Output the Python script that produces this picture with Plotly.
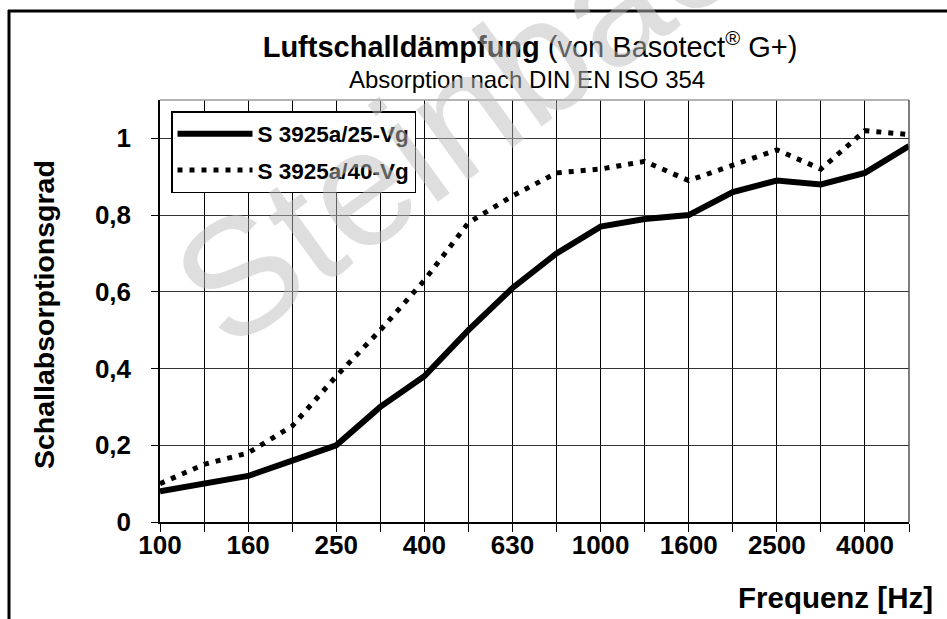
import plotly.graph_objects as go

# Data
frequencies = ["100", "125", "160", "200", "250", "315", "400", "500", "630", "800",
               "1000", "1250", "1600", "2000", "2500", "3150", "4000", "5000"]
s25_values = [0.08, 0.10, 0.12, 0.16, 0.20, 0.30, 0.38, 0.50, 0.61, 0.70,
              0.77, 0.79, 0.80, 0.86, 0.89, 0.88, 0.91, 0.98]
s40_values = [0.10, 0.15, 0.18, 0.25, 0.38, 0.50, 0.63, 0.78, 0.85, 0.91,
              0.92, 0.94, 0.89, 0.93, 0.97, 0.92, 1.02, 1.01]
x_tick_labels = ["100", "", "160", "", "250", "", "400", "", "630", "",
                 "1000", "", "1600", "", "2500", "", "4000", ""]
y_tick_vals = [0, 0.2, 0.4, 0.6, 0.8, 1.0]
y_tick_labels = ["0", "0,2", "0,4", "0,6", "0,8", "1"]
series_names = ["S 3925a/25-Vg", "S 3925a/40-Vg"]

FONT = "Liberation Sans, Arial, sans-serif"
W, H = 947, 619
L, R, T, B = 160, 38, 100, 97
pw, ph = W - L - R, H - T - B


def px_x(x):
    return (x - L) / pw


def px_y(y):
    return (H - B - y) / ph


fig = go.Figure()
fig.add_trace(go.Scatter(
    x=frequencies, y=s25_values, name=series_names[0], mode="lines",
    line=dict(color="black", width=6), legendgroup="a"))
fig.add_trace(go.Scatter(
    x=frequencies, y=s40_values, name=series_names[1], mode="lines",
    line=dict(color="black", width=5, dash="5px,7px"), legendgroup="b"))

fig.update_layout(
    width=W, height=H,
    margin=dict(l=L, r=R, t=T, b=B, pad=0),
    paper_bgcolor="white", plot_bgcolor="white",
    font=dict(family=FONT, color="black"),
    showlegend=True,
    legend=dict(
        x=px_x(171), y=px_y(111), xanchor="left", yanchor="top",
        bgcolor="white", bordercolor="black", borderwidth=1.5,
        font=dict(family=FONT, size=22.5, color="black", weight="bold"),
        itemwidth=75, traceorder="grouped", tracegroupgap=4,
    ),
    title=dict(
        text="<b>Luftschalldämpfung</b> (von Basotect<sup>®</sup> G+)",
        font=dict(family=FONT, size=29, color="black"),
        x=px_x(530), xref="paper", xanchor="center",
        y=1 - 47 / H, yref="container", yanchor="middle",
    ),
    xaxis=dict(
        type="category", categoryorder="array", categoryarray=frequencies,
        range=[0, len(frequencies) - 1],
        tickmode="array", tickvals=frequencies, ticktext=x_tick_labels,
        tickfont=dict(family=FONT, size=26, color="black", weight="bold"),
        ticks="outside", ticklen=8, tickcolor="black", tickwidth=1,
        ticklabelstandoff=-9,
        showgrid=True, gridcolor="black", gridwidth=1,
        showline=True, linecolor="black", linewidth=1.5,
        zeroline=False, fixedrange=True,
    ),
    yaxis=dict(
        range=[0, 1.1], tickmode="array", tickvals=y_tick_vals, ticktext=y_tick_labels,
        tickfont=dict(family=FONT, size=26, color="black", weight="bold"),
        ticks="outside", ticklen=7, tickcolor="black", tickwidth=1,
        ticklabelstandoff=15,
        showgrid=True, gridcolor="#333333", gridwidth=1,
        showline=True, linecolor="black", linewidth=1.5,
        zeroline=False, fixedrange=True,
    ),
)

# plot border (top light gray, right dark gray)
fig.add_shape(type="line", xref="paper", yref="paper", x0=0, x1=1, y0=1, y1=1,
              line=dict(color="#9a9a9a", width=1.5))
fig.add_shape(type="line", xref="paper", yref="paper", x0=1, x1=1, y0=0, y1=1,
              line=dict(color="#555555", width=1.5))

# outer frame (cropped): left and top
fig.add_shape(type="line", xref="paper", yref="paper",
              x0=px_x(9), x1=px_x(9), y0=px_y(10), y1=px_y(625),
              line=dict(color="black", width=3))
fig.add_shape(type="line", xref="paper", yref="paper",
              x0=px_x(8), x1=px_x(952), y0=px_y(11), y1=px_y(11),
              line=dict(color="black", width=3))

# subtitle
fig.add_annotation(text="Absorption nach DIN EN ISO 354", xref="paper", yref="paper",
                   x=px_x(527), y=px_y(80), xanchor="center", yanchor="middle",
                   showarrow=False, font=dict(family=FONT, size=24, color="black"))
# axis titles
fig.add_annotation(text="<b>Frequenz [Hz]</b>", xref="paper", yref="paper",
                   x=px_x(935), y=px_y(597), xanchor="right", yanchor="middle",
                   showarrow=False, font=dict(family=FONT, size=29.5, color="black"))
fig.add_annotation(text="<b>Schallabsorptionsgrad</b>", xref="paper", yref="paper",
                   x=px_x(44), y=px_y(315), xanchor="center", yanchor="middle",
                   textangle=-90, showarrow=False,
                   font=dict(family=FONT, size=28.5, color="black"))

# watermark
fig.add_annotation(text="Steinbach", xref="paper", yref="paper",
                   x=px_x(492), y=px_y(92), xanchor="center", yanchor="middle",
                   textangle=-36, showarrow=False,
                   font=dict(family=FONT, size=165, color="rgba(190,190,190,0.5)"))

fig.write_html("out.html", config={"displayModeBar": False},
               post_script="document.body.style.margin='0';")
